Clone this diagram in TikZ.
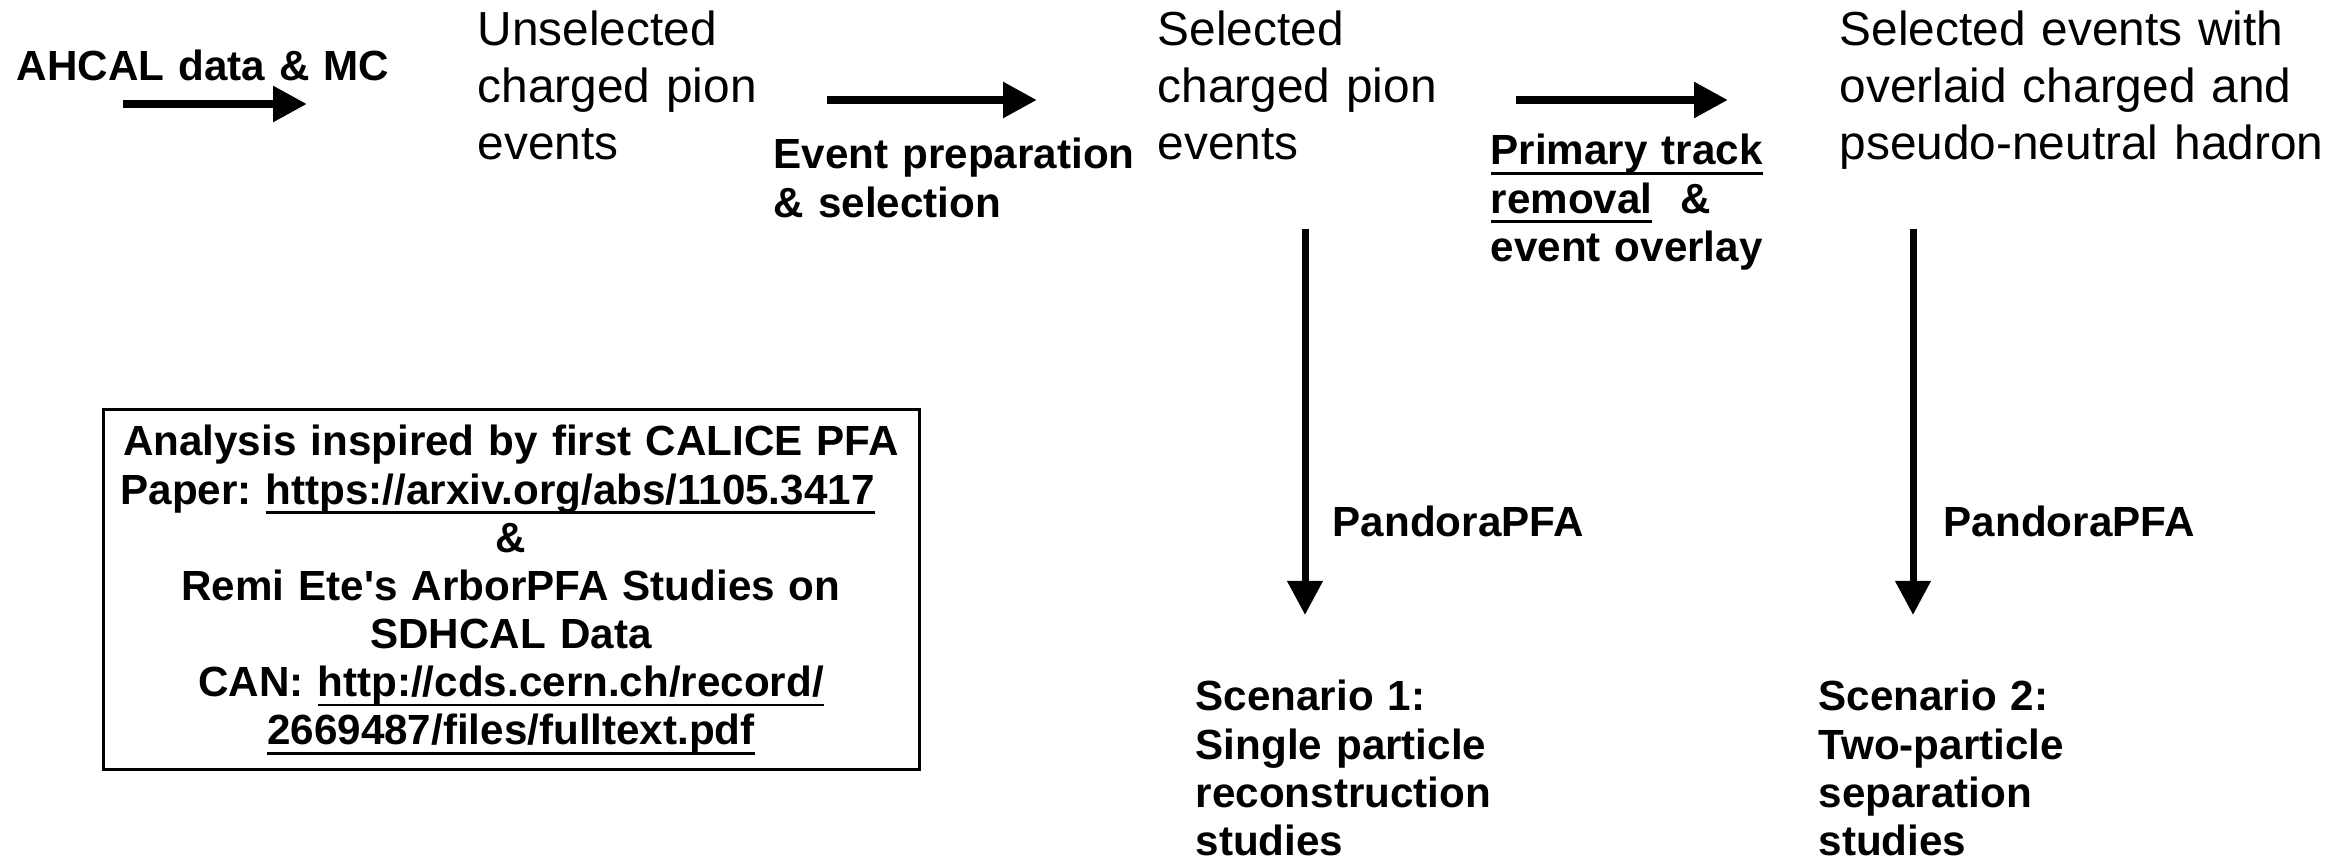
\documentclass[tikz,border=0pt]{standalone}
\usepackage{fontspec}
\setmainfont{Liberation Sans}
\usetikzlibrary{arrows.meta, positioning}

\newcommand{\uln}[1]{\leavevmode\vtop{\hbox{#1\vphantom{y}}\kern-0.5pt\hrule height 0.8pt}}

\begin{document}
\begin{tikzpicture}[
  stagetext/.style = {
    anchor=base west, inner sep=0pt,
    text width=5.2cm, align=left,
    font=\fontsize{13.6}{16.2}\selectfont\frenchspacing
  },
  actiontext/.style = {
    anchor=base west, inner sep=0pt,
    text width=4.2cm, align=left,
    font=\fontsize{12}{13.7}\selectfont\bfseries\frenchspacing
  },
  infobox/.style = {
    rectangle, draw, line width=0.03cm,
    minimum width=8.16cm, minimum height=3.6cm,
    text width=8cm, align=center, inner sep=0pt,
    font=\fontsize{12}{13.7}\selectfont\bfseries\frenchspacing
  },
  arrow/.style = {-{Triangle[length=0.34cm, width=0.34cm]}, line width=0.085cm}
]
\useasboundingbox (0,0) rectangle (23.46,-8.61);
%--- STAGES ---
\node[actiontext] (ahcal) at (0.16,-0.81) {AHCAL data \& MC};
\node[stagetext]  (unsel) at (4.77,-0.46) {Unselected\\charged pion\\events};
\node[stagetext]  (sel)   at (11.57,-0.46) {Selected\\charged pion\\events};
\node[stagetext]  (overl) at (18.39,-0.46) {Selected events with\\overlaid charged and\\pseudo-neutral hadron};
%--- ACTIONS ---
\node[actiontext] (prep)  at (7.73,-1.69) {Event preparation\\\& selection};
\node[actiontext] (prim)  at (14.90,-1.65) {\uln{Primary track}\\\uln{removal}\ \ \&\\event overlay};
\node[actiontext] (pand1) at (13.32,-5.37) {PandoraPFA};
\node[actiontext] (pand2) at (19.43,-5.37) {PandoraPFA};
%--- SCENARIOS ---
\node[actiontext] (scen1) at (11.95,-7.11) {Scenario 1:\\Single particle\\reconstruction\\studies};
\node[actiontext] (scen2) at (18.18,-7.11) {Scenario 2:\\Two-particle\\separation\\studies};
%--- REFERENCES ---
\node[infobox] (inspire) at (5.11,-5.90) {Analysis inspired by first CALICE PFA\\%
Paper: \uln{https://arxiv.org/abs/1105.3417}\rule{0.27cm}{0pt}\\%
\&\\%
Remi Ete\textquotesingle s ArborPFA Studies on\\%
SDHCAL Data\\%
CAN: \uln{http://cds.cern.ch/record/}\\%
\uln{2669487/files/fulltext.pdf}};
%--- SETAS ---
\coordinate (a1s) at (1.23,-1.04);  \coordinate (a1e) at (3.07,-1.04);
\coordinate (a2s) at (8.27,-1.00);  \coordinate (a2e) at (10.37,-1.00);
\coordinate (a3s) at (15.16,-1.00); \coordinate (a3e) at (17.28,-1.00);
\coordinate (v1s) at (13.05,-2.29); \coordinate (v1e) at (13.05,-6.15);
\coordinate (v2s) at (19.13,-2.29); \coordinate (v2e) at (19.13,-6.15);
\draw[arrow] (a1s) -- (a1e);
\draw[arrow] (a2s) -- (a2e);
\draw[arrow] (a3s) -- (a3e);
\draw[arrow, line width=0.07cm] (v1s) -- (v1e);
\draw[arrow, line width=0.07cm] (v2s) -- (v2e);
\end{tikzpicture}
\end{document}
